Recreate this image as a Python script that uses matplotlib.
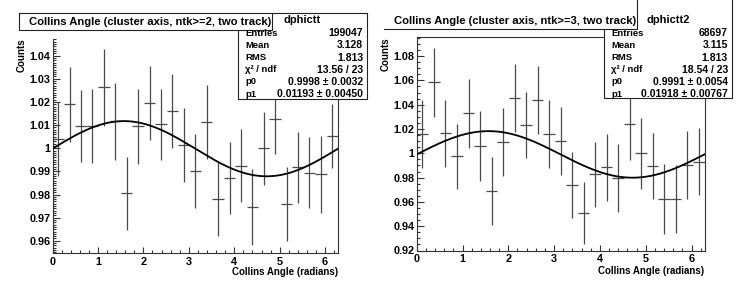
import numpy as np
import matplotlib
matplotlib.use("Agg")
import matplotlib.pyplot as plt
from matplotlib.patches import Rectangle
from matplotlib.lines import Line2D
from matplotlib.ticker import MultipleLocator

plt.rcParams['font.family'] = ['Liberation Sans', 'DejaVu Sans']

# ---------------- data ----------------
nbins = 25
left_counts = [1.0040, 1.0190, 1.0097, 1.0095, 1.0263, 1.0117, 0.9806, 1.0095, 1.0195,
               1.0103, 1.0161, 1.0014, 0.9902, 1.0112, 0.9780, 0.9871, 0.9925, 0.9746,
               1.0000, 1.0125, 0.9760, 0.9917, 0.9895, 0.9888, 1.0053]
left_errors = [0.0161, 0.0162, 0.0156, 0.0160, 0.0166, 0.0167, 0.0158, 0.0163, 0.0160,
               0.0155, 0.0160, 0.0160, 0.0160, 0.0160, 0.0160, 0.0155, 0.0158, 0.0163,
               0.0158, 0.0150, 0.0160, 0.0155, 0.0155, 0.0167, 0.0140]
right_counts = [1.0157, 1.0583, 1.0165, 0.9975, 1.0331, 1.0060, 0.9686, 1.0091, 1.0455,
                1.0231, 1.0438, 1.0157, 1.0100, 0.9738, 0.9510, 0.9826, 0.9884, 0.9800,
                1.0240, 1.0000, 0.9895, 0.9625, 0.9620, 0.9900, 0.9931]
right_errors = [0.0280, 0.0285, 0.0275, 0.0265, 0.0284, 0.0286, 0.0280, 0.0279, 0.0279,
                0.0271, 0.0282, 0.0280, 0.0280, 0.0269, 0.0255, 0.0268, 0.0276, 0.0280,
                0.0295, 0.0290, 0.0275, 0.0290, 0.0280, 0.0280, 0.0276]

left_fit = (0.9998, 0.01193)
right_fit = (0.9991, 0.01918)

left_title = "Collins Angle (cluster axis, ntk>=2, two track)"
right_title = "Collins Angle (cluster axis, ntk>=3, two track)"
left_name = "dphictt"
right_name = "dphictt2"
stat_labels = ["Entries", "Mean", "RMS", "\u03c7\u00b2 / ndf", "p0", "p1"]
left_stats = ["199047", "3.128", "1.813", "13.56 / 23", "0.9998 \u00b1 0.0032", "0.01193 \u00b1 0.00450"]
right_stats = ["68697", "3.115", "1.813", "18.54 / 23", "0.9991 \u00b1 0.0054", "0.01918 \u00b1 0.00767"]
xlabel = "Collins Angle (radians)"
ylabel = "Counts"

# ---------------- figure ----------------
W, H = 747, 293
fig = plt.figure(figsize=(W / 100, H / 100), dpi=100)
fig.patch.set_facecolor('white')

def fx(x):
    return x / W

def fy(y):
    return 1 - y / H

edges = np.linspace(0, 2 * np.pi, nbins + 1)
centers = 0.5 * (edges[:-1] + edges[1:])
halfw = 0.5 * (edges[1] - edges[0])
xx = np.linspace(0, 2 * np.pi, 400)

def panel(rect, counts, errors, fit, ylim, major, minor, show_top):
    ax = fig.add_axes(rect)
    ax.errorbar(centers, counts, yerr=errors, xerr=halfw, fmt='none',
                ecolor='#4a4a4a', elinewidth=0.9, capsize=0, zorder=2)
    p0, p1 = fit
    ax.plot(xx, p0 * (1 + p1 * np.sin(xx)), color='black', lw=1.3, zorder=3)
    ax.set_xlim(0, 2 * np.pi)
    ax.set_ylim(*ylim)
    ax.xaxis.set_major_locator(MultipleLocator(1))
    ax.xaxis.set_minor_locator(MultipleLocator(0.2))
    ax.yaxis.set_major_locator(MultipleLocator(major))
    ax.yaxis.set_minor_locator(MultipleLocator(minor))
    ax.tick_params(which='both', direction='in', color='#333333', width=0.8,
                   labelsize=7.8, top=False, right=False)
    ax.tick_params(axis='y', which='major', length=5.0, pad=1.5)
    ax.tick_params(axis='y', which='minor', length=2.5)
    ax.tick_params(axis='x', which='major', length=4.0, pad=2.5)
    ax.tick_params(axis='x', which='minor', length=2.0)
    for lab in ax.get_xticklabels() + ax.get_yticklabels():
        lab.set_fontweight('bold')
    ax.yaxis.set_major_formatter(plt.FuncFormatter(lambda v, p: ('%g' % round(v, 4))))
    for s in ax.spines.values():
        s.set_color('#333333')
        s.set_linewidth(0.8)
    ax.spines['top'].set_visible(show_top)
    return ax

axL = panel([fx(52.5), fy(253.3), fx(338 - 52.5), (253.3 - 39) / H],
            left_counts, left_errors, left_fit, (0.9546, 1.0472), 0.01, 0.001, False)
axR = panel([fx(416.7), fy(250.5), fx(704.5 - 416.7), (250.5 - 37.3) / H],
            right_counts, right_errors, right_fit, (0.9200, 1.0955), 0.02, 0.005, True)

def fig_fill(x0, y0, x1, y1, z):
    r = Rectangle((fx(x0), fy(y1)), fx(x1 - x0), (y1 - y0) / H, transform=fig.transFigure,
                  facecolor='white', edgecolor='none', zorder=z)
    fig.add_artist(r)

def fig_line(xs, ys, z):
    fig.add_artist(Line2D([fx(x) for x in xs], [fy(y) for y in ys], transform=fig.transFigure,
                          color='#222222', lw=0.8, zorder=z))

def decorate(title, name, stats, tb, st, full_box, ax_right, ax_top, xl_y, yl_x):
    sx0, sy0, sx1, sy1 = st
    tx0, ty0, tx1, ty1 = tb
    # stats box
    fig_fill(sx0, sy0, sx1, sy1, 10)
    fig_line([sx0, sx0, sx1, sx1], [ty1, sy1, sy1, sy0 if full_box else 0], 10.5)
    # title box
    fig_fill(tx0, ty0, tx1, ty1, 11)
    if full_box:
        fig_line([tx0, sx1], [ty0, ty0], 11.5)
        fig_line([tx0, tx0, tx1, tx1], [ty0, ty1, ty1, ty0], 11.5)
    else:
        fig_line([tx0, tx1, tx1], [ty1, ty1, 0], 11.5)
    fig.text(fx(tx0 + 10), fy((ty0 + ty1) / 2 + 0.5), title, fontsize=8.1, fontweight='bold',
             ha='left', va='center', zorder=12)
    fig.text(fx((sx0 + sx1) / 2), fy(20), name, fontsize=8.0, fontweight='bold',
             ha='center', va='center', zorder=12)
    for i, (lab, val) in enumerate(zip(stat_labels, stats)):
        y = 33.3 + i * 12.15
        fig.text(fx(sx0 + 7), fy(y), lab, fontsize=6.8, fontweight='bold',
                 ha='left', va='center', zorder=12)
        fig.text(fx(sx1 - 4), fy(y), val, fontsize=7.5, fontweight='bold',
                 ha='right', va='center', zorder=12)
    fig.text(fx(ax_right), fy(xl_y), xlabel, fontsize=7.0, fontweight='bold',
             ha='right', va='center')
    fig.text(fx(yl_x), fy(ax_top), ylabel, fontsize=7.0, fontweight='bold',
             rotation=90, ha='center', va='top', zorder=5)

decorate(left_title, left_name, left_stats, (19, 13, 272, 30), (238, 13, 367, 99.3), True,
         338, 38, 271.7, 21.5)
decorate(right_title, right_name, right_stats, (384, 13, 637, 28.5), (604, 13, 732, 98.3), False,
         704.5, 37.3, 270.7, 386)

fig.savefig("out.png", dpi=100)
